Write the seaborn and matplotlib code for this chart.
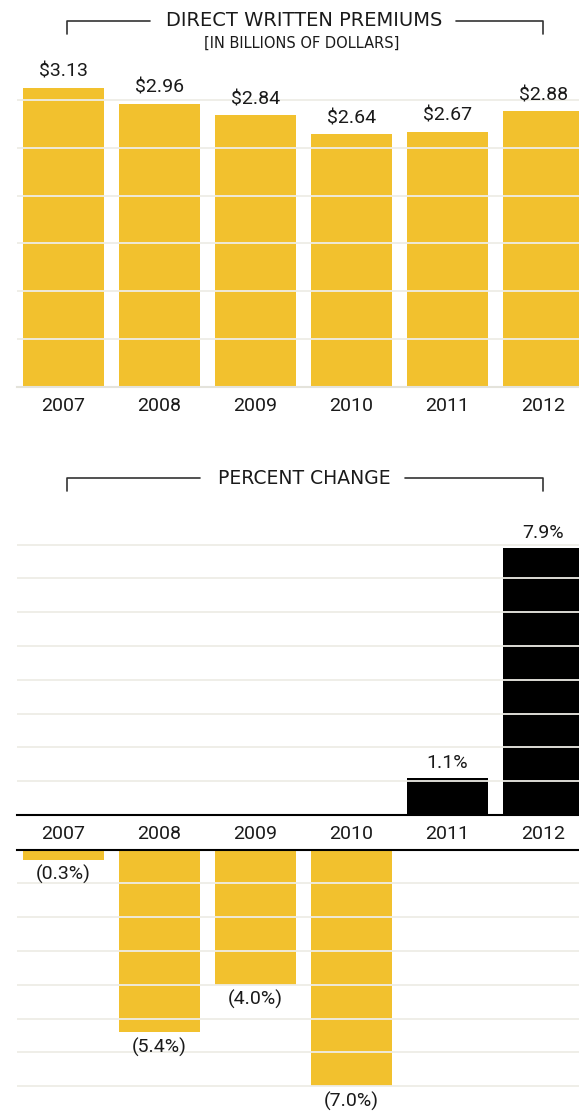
import matplotlib
matplotlib.use("Agg")
import matplotlib.pyplot as plt
from matplotlib.lines import Line2D
import seaborn as sns

# Data
years = ["2007", "2008", "2009", "2010", "2011", "2012"]
premiums = [3.13, 2.96, 2.84, 2.64, 2.67, 2.88]
premium_labels = ["$3.13", "$2.96", "$2.84", "$2.64", "$2.67", "$2.88"]
pct_change = [-0.3, -5.4, -4.0, -7.0, 1.1, 7.9]
pct_labels = ["(0.3%)", "(5.4%)", "(4.0%)", "(7.0%)", "1.1%", "7.9%"]

YELLOW = "#F2C12E"
BLACK = "#000000"
GRID = "#EEEDE6"
TEXT = "#1A1A1A"

sns.set_theme(style="white")
plt.rcParams["font.family"] = ["Roboto", "DejaVu Sans"]

W, H = 579, 1115
fig = plt.figure(figsize=(W / 100, H / 100), dpi=100)


def fy(px):
    return 1 - px / H


def rect(top, bottom):
    return [17 / W, fy(bottom), (W - 17) / W, (bottom - top) / H]


XLIM = (-0.484, 5.37)
BAR_W = 0.845


def style_axis(ax):
    ax.set_xlim(*XLIM)
    ax.set_xlabel("")
    ax.set_ylabel("")
    ax.set_yticklabels([])
    ax.tick_params(axis="both", length=0)
    for s in ax.spines.values():
        s.set_visible(False)
    ax.grid(False)


# Top chart: direct written premiums
ax_top = fig.add_axes(rect(60, 387))
sns.barplot(x=years, y=premiums, color=YELLOW, width=BAR_W, saturation=1,
            linewidth=0, ax=ax_top)
style_axis(ax_top)
ax_top.set_ylim(0, 327 / 95.67)
ax_top.set_yticks([0.5, 1.0, 1.5, 2.0, 2.5, 3.0])
ax_top.yaxis.grid(True, color=GRID, lw=1.3)
ax_top.set_axisbelow(False)
ax_top.spines["bottom"].set_visible(True)
ax_top.spines["bottom"].set_color("#E4E3DB")
ax_top.spines["bottom"].set_linewidth(1.5)
ax_top.tick_params(axis="x", labelsize=14, labelcolor=TEXT, pad=7)
for i, (v, lab) in enumerate(zip(premiums, premium_labels)):
    ax_top.annotate(lab, (i, v), xytext=(0, 5), textcoords="offset points",
                    ha="center", va="bottom", fontsize=14, color=TEXT, clip_on=False)

# Bottom chart, positive part
pos_vals = [v if v > 0 else 0 for v in pct_change]
neg_vals = [v if v < 0 else 0 for v in pct_change]

ax_pos = fig.add_axes(rect(525, 815))
sns.barplot(x=years, y=pos_vals, color=BLACK, width=BAR_W, saturation=1,
            linewidth=0, ax=ax_pos)
style_axis(ax_pos)
ax_pos.set_ylim(0, 290 / 33.8)
ax_pos.set_yticks(range(1, 9))
ax_pos.yaxis.grid(True, color=GRID, lw=1.3)
ax_pos.set_axisbelow(False)
ax_pos.spines["bottom"].set_visible(True)
ax_pos.spines["bottom"].set_color(BLACK)
ax_pos.spines["bottom"].set_linewidth(1.5)
ax_pos.tick_params(axis="x", labelsize=14, labelcolor=TEXT, pad=7)

# Bottom chart, negative part
ax_neg = fig.add_axes(rect(849.5, 1115))
sns.barplot(x=years, y=neg_vals, color=YELLOW, width=BAR_W, saturation=1,
            linewidth=0, ax=ax_neg)
style_axis(ax_neg)
ax_neg.set_ylim(-265.5 / 33.8, 0)
ax_neg.set_yticks(range(-7, 0))
ax_neg.set_xticklabels([])
ax_neg.yaxis.grid(True, color=GRID, lw=1.3)
ax_neg.set_axisbelow(False)
ax_neg.spines["top"].set_visible(True)
ax_neg.spines["top"].set_color(BLACK)
ax_neg.spines["top"].set_linewidth(1.5)

for i, (v, lab) in enumerate(zip(pct_change, pct_labels)):
    if v > 0:
        ax_pos.annotate(lab, (i, v), xytext=(0, 4), textcoords="offset points",
                        ha="center", va="bottom", fontsize=14, color=TEXT, clip_on=False)
    else:
        ax_neg.annotate(lab, (i, v), xytext=(0, -4), textcoords="offset points",
                        ha="center", va="top", fontsize=14, color=TEXT, clip_on=False)


# Bracketed headings
def bracket(y, x0, x1, gap0, gap1, tick):
    kw = dict(color="#333333", lw=1.2, transform=fig.transFigure)
    fig.add_artist(Line2D([x0 / W, x0 / W, gap0 / W], [fy(y + tick), fy(y), fy(y)], **kw))
    fig.add_artist(Line2D([gap1 / W, x1 / W, x1 / W], [fy(y), fy(y), fy(y + tick)], **kw))


bracket(21, 66.5, 543, 150, 456, 13)
fig.text(304 / W, fy(21), "DIRECT WRITTEN PREMIUMS", ha="center", va="center",
         fontsize=14, color=TEXT, family=["DejaVu Sans"])
fig.text(302 / W, fy(43), "[IN BILLIONS OF DOLLARS]", ha="center", va="center",
         fontsize=10.5, color=TEXT, family=["DejaVu Sans"])

bracket(478, 67, 543, 200, 405, 13)
fig.text(304 / W, fy(478), "PERCENT CHANGE", ha="center", va="center",
         fontsize=13.5, color=TEXT, family=["DejaVu Sans"])

fig.savefig("out.png", dpi=100)
